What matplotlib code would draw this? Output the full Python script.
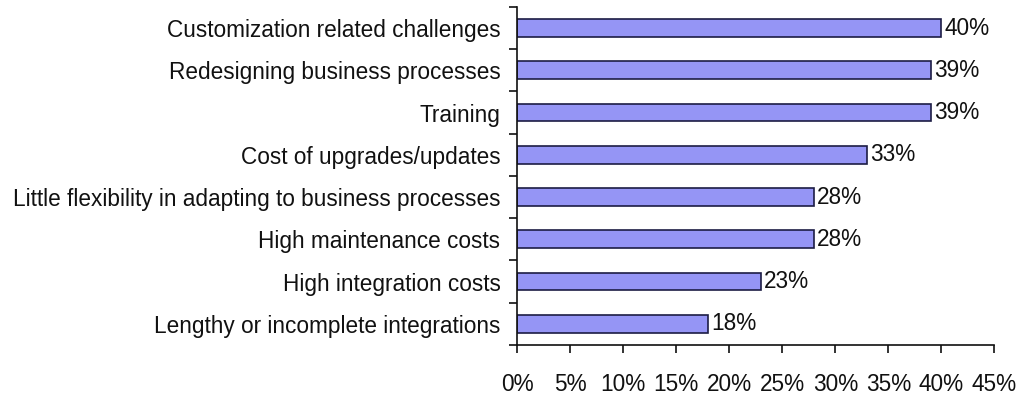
import numpy as np
import matplotlib
matplotlib.use("Agg")
import matplotlib.pyplot as plt
from matplotlib.ticker import FixedLocator

categories = ["Customization related challenges", "Redesigning business processes",
              "Training", "Cost of upgrades/updates",
              "Little flexibility in adapting to business processes",
              "High maintenance costs", "High integration costs",
              "Lengthy or incomplete integrations"]
values = [40, 39, 39, 33, 28, 28, 23, 18]
xticks = [0, 5, 10, 15, 20, 25, 30, 35, 40, 45]

BAR = "#9595f5"; EDGE = "#1c1c44"; INK = "#111111"
FS = 16.3
plt.rcParams["font.family"] = ["Liberation Sans", "DejaVu Sans"]

fig = plt.figure(figsize=(10.24, 4.04), dpi=100)
ax = fig.add_axes([0.505, 0.146, 0.466, 0.837])
n = len(categories)
y = np.arange(n)[::-1]
ax.barh(y, values, height=0.42, color=BAR, edgecolor=EDGE, linewidth=1.2)
for yi, v in zip(y, values):
    ax.text(v + 0.3, yi, f"{v}%", va="center", ha="left", fontsize=FS, color=INK)

ax.set_xlim(0, 45)
ax.set_ylim(-0.5, n - 0.5)
ax.set_xticks(xticks)
ax.set_xticklabels([f"{t}%" for t in xticks], fontsize=FS, color=INK)
ax.set_yticks(y)
ax.set_yticklabels(categories, fontsize=FS, color=INK)
ax.yaxis.set_minor_locator(FixedLocator(np.arange(-0.5, n, 1.0)))
ax.tick_params(axis="y", which="major", length=0, pad=12)
ax.tick_params(axis="y", which="minor", length=6, width=1.2, direction="out", color=INK)
ax.tick_params(axis="x", length=6, width=1.2, direction="out", color=INK, pad=14)
for s in ["top", "right"]:
    ax.spines[s].set_visible(False)
for s in ["left", "bottom"]:
    ax.spines[s].set_linewidth(1.2)
    ax.spines[s].set_color(INK)

fig.savefig("out.png", dpi=100)
